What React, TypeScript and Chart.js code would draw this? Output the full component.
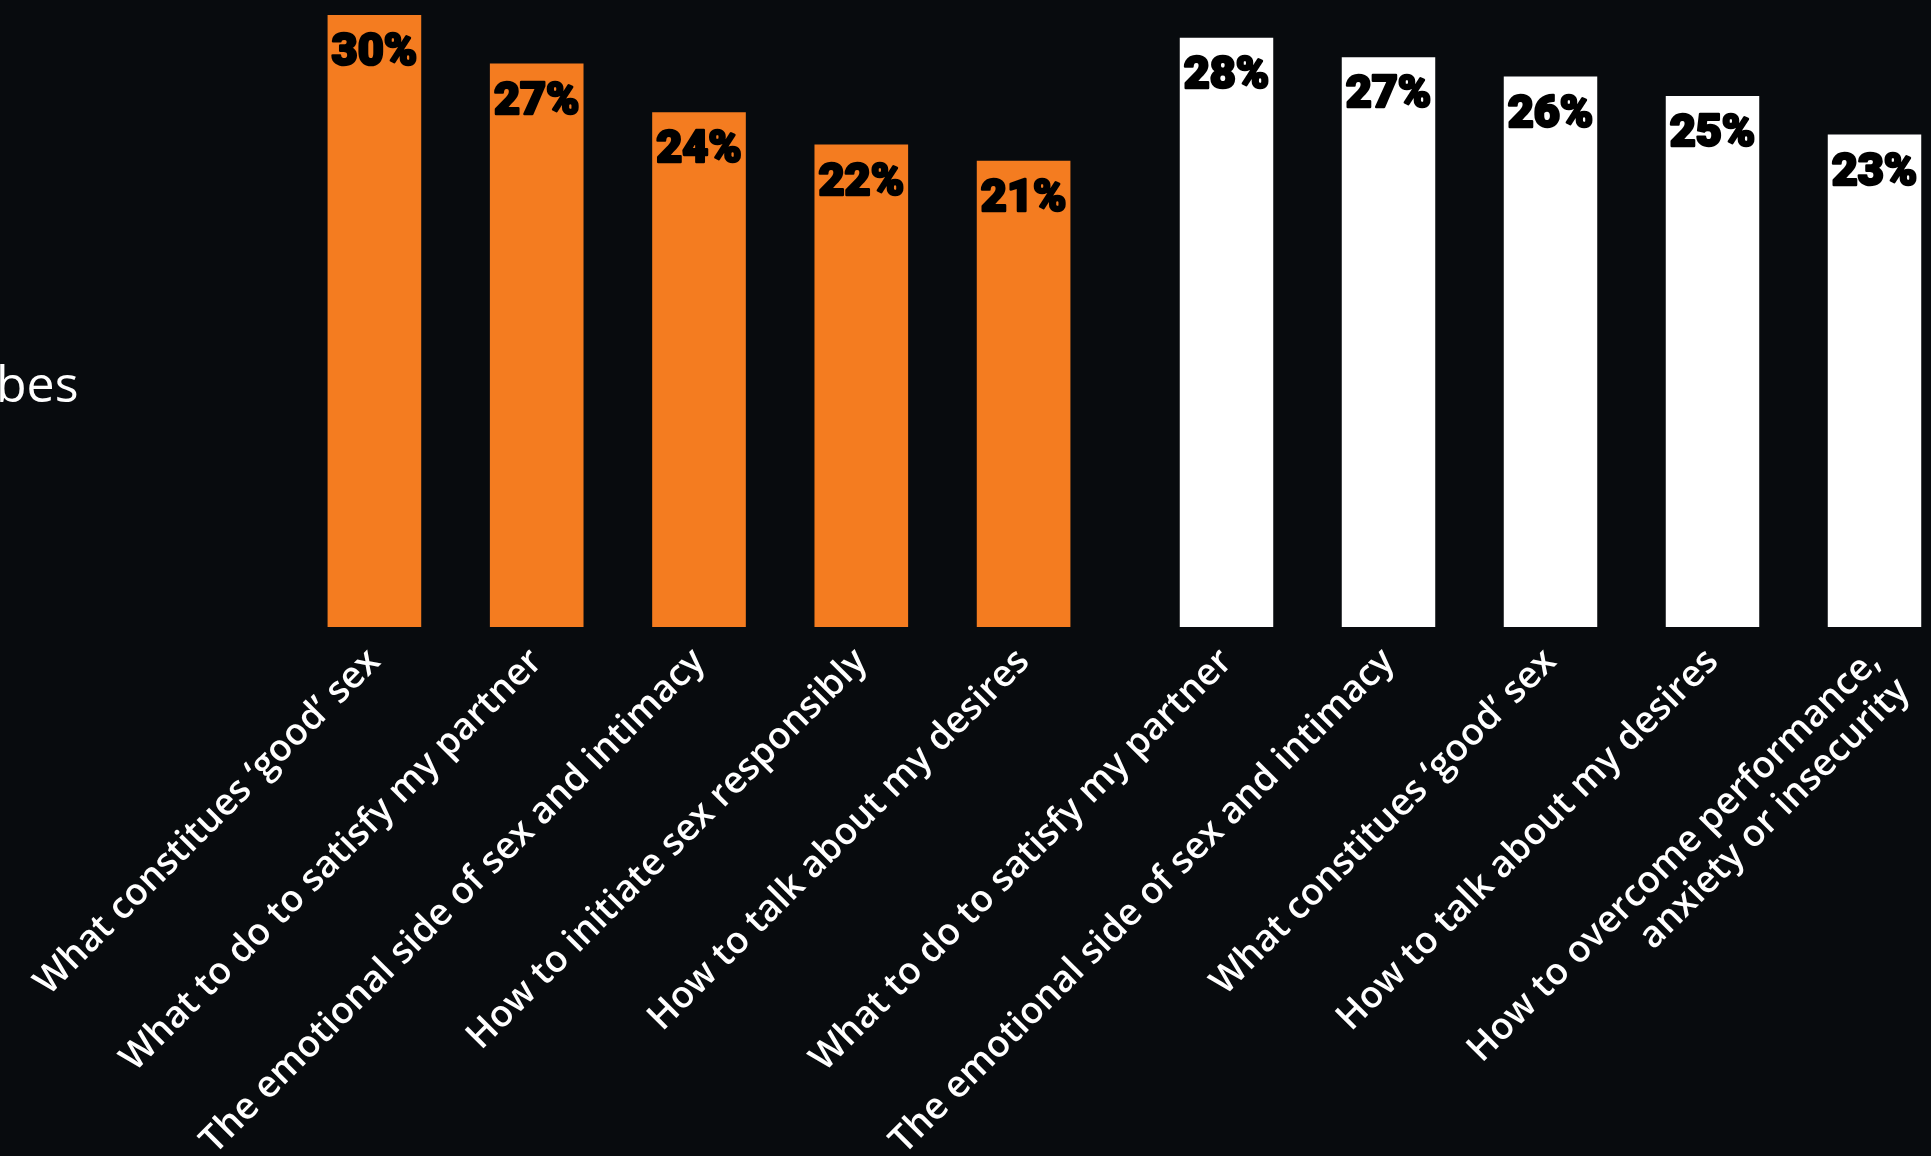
import React, { useEffect, useRef } from "react";
import { Chart, registerables } from "chart.js";

Chart.register(...registerables);

// ---- data ----
const orangeCategories: (string | string[])[] = [
  "What constitues ‘good’ sex",
  "What to do to satisfy my partner",
  "The emotional side of sex and intimacy",
  "How to initiate sex responsibly",
  "How to talk about my desires",
];
const orangeValues = [30, 27, 24, 22, 21];

const whiteCategories: (string | string[])[] = [
  "What to do to satisfy my partner",
  "The emotional side of sex and intimacy",
  "What constitues ‘good’ sex",
  "How to talk about my desires",
  ["How to overcome performance,", "anxiety or insecurity"],
];
const whiteValues = [28, 27, 26, 25, 23];

const sideTitle = "bes";

// ---- styles ----
const BG = "#080b0e";
const ORANGE = "#f47c20";
const WHITE = "#ffffff";
const W = 1931;
const H = 1156;

const valueLabelPlugin = {
  id: "valueLabels",
  afterDatasetsDraw(chart: any) {
    const ctx = chart.ctx;
    chart.data.datasets.forEach((ds: any, di: number) => {
      const meta = chart.getDatasetMeta(di);
      meta.data.forEach((bar: any, i: number) => {
        ctx.save();
        ctx.font = "900 45px Roboto";
        ctx.fillStyle = "#000000";
        ctx.strokeStyle = "#000000";
        ctx.lineWidth = 2.5;
        ctx.lineJoin = "round";
        ctx.textAlign = "center";
        ctx.textBaseline = "alphabetic";
        const t = `${ds.data[i]}%`;
        ctx.strokeText(t, bar.x, bar.y + 50);
        ctx.fillText(t, bar.x, bar.y + 50);
        ctx.restore();
      });
    });
  },
};

function makeConfig(
  labels: (string | string[])[],
  values: number[],
  color: string,
  yMin: number,
  yMax: number,
  padLeft: number,
  padRight: number
): any {
  return {
    type: "bar",
    data: {
      labels,
      datasets: [
        {
          data: values,
          base: yMin,
          backgroundColor: color,
          borderWidth: 0,
          categoryPercentage: 1,
          barPercentage: 0.577,
        },
      ],
    },
    options: {
      responsive: false,
      animation: false,
      layout: { padding: { top: 15, left: padLeft, right: padRight, bottom: 0 } },
      plugins: { legend: { display: false }, tooltip: { enabled: false } },
      scales: {
        x: {
          grid: { display: false, drawTicks: false },
          border: { display: false },
          afterFit(scale: any) {
            scale.paddingLeft = 0;
            scale.paddingRight = 0;
            scale.height = H - 627;
          },
          ticks: {
            autoSkip: false,
            minRotation: 45,
            maxRotation: 45,
            padding: 14,
            color: "#ffffff",
            font: { family: "'Open Sans'", size: 37, weight: "600", lineHeight: 1.12 },
          },
        },
        y: {
          display: false,
          min: yMin,
          max: yMax,
        },
      },
    },
    plugins: [valueLabelPlugin],
  };
}

function BarCanvas(props: {
  labels: (string | string[])[];
  values: number[];
  color: string;
  yMin: number;
  yMax: number;
  width: number;
  padLeft: number;
  padRight: number;
}) {
  const ref = useRef<HTMLCanvasElement | null>(null);
  useEffect(() => {
    if (!ref.current) return;
    const chart = new Chart(
      ref.current,
      makeConfig(props.labels, props.values, props.color, props.yMin, props.yMax, props.padLeft, props.padRight)
    );
    return () => chart.destroy();
  }, []);
  return (
    <canvas
      ref={ref}
      width={props.width}
      height={H}
      style={{ position: "absolute", left: 0, top: 0, width: props.width, height: H }}
    />
  );
}

export default function App() {
  return (
    <div
      style={{
        position: "fixed",
        left: 0,
        top: 0,
        width: W,
        height: H,
        overflow: "hidden",
        background: BG,
      }}
    >
      <div
        style={{
          position: "absolute",
          left: -4,
          top: 358,
          fontFamily: "'Open Sans', sans-serif",
          fontWeight: 500,
          fontSize: 50,
          lineHeight: "50px",
          color: "#ffffff",
          whiteSpace: "nowrap",
        }}
      >
        {sideTitle}
      </div>
      <BarCanvas
        labels={orangeCategories}
        values={orangeValues}
        color={ORANGE}
        yMin={-7.8}
        yMax={30}
        width={W}
        padLeft={293.25}
        padRight={W - 1104.75}
      />
      <BarCanvas
        labels={whiteCategories}
        values={whiteValues}
        color={WHITE}
        yMin={-2.45}
        yMax={29.18}
        width={1960}
        padLeft={1145.5}
        padRight={1960 - 1955.5}
      />
    </div>
  );
}
